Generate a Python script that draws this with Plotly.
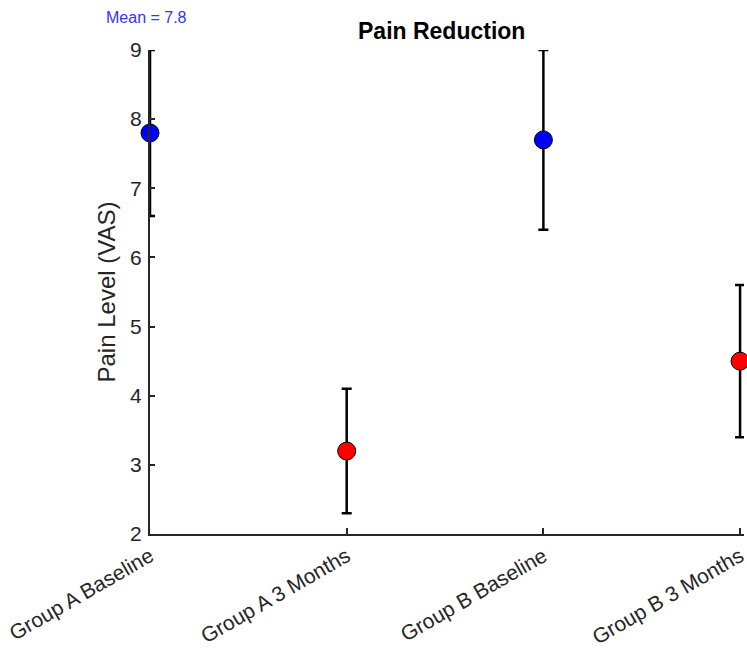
import plotly.graph_objects as go

categories = ["Group A Baseline", "Group A 3 Months", "Group B Baseline", "Group B 3 Months"]
means = [7.8, 3.2, 7.7, 4.5]
errors = [1.2, 0.9, 1.3, 1.1]
colors = ["#0000FF", "#FF0000", "#0000FF", "#FF0000"]
y_ticks = [2, 3, 4, 5, 6, 7, 8, 9]
annotation_text = "Mean = 7.8"

xs = list(range(len(categories)))
axis_col = "#262626"
font_fam = "Liberation Sans, Arial, sans-serif"

# plot area: 597 px wide, 484 px tall
PW, PH = 597, 484

fig = go.Figure()
fig.add_trace(go.Scatter(
    x=xs, y=means, mode="markers",
    marker=dict(size=18, color=colors, line=dict(color="#000000", width=1)),
    error_y=dict(type="data", array=errors, visible=True, color="#000000", thickness=2.5, width=5),
    cliponaxis=False, showlegend=False,
))

fig.add_annotation(x=0, y=1 + (50 - 17) / PH, xref="paper", yref="paper", text=annotation_text,
                   showarrow=False, font=dict(family=font_fam, size=16, color="#3333FF"),
                   xanchor="center", yanchor="middle", xshift=-4)
fig.add_annotation(x=(443 - 150) / PW, y=1 + (50 - 31) / PH, xref="paper", yref="paper",
                   text="<b>Pain Reduction</b>", showarrow=False, xanchor="center", yanchor="middle",
                   font=dict(family=font_fam, size=23, color="#000000"))

fig.update_layout(
    width=747, height=648,
    margin=dict(l=150, r=0, t=50, b=114),
    paper_bgcolor="white", plot_bgcolor="white",
    font=dict(family=font_fam, color=axis_col),
    xaxis=dict(
        range=[0, 3.02], tickvals=xs, ticktext=categories, tickangle=-30,
        showline=True, linecolor=axis_col, linewidth=2, ticks="inside", ticklen=6,
        tickcolor=axis_col, tickwidth=1.5, showgrid=False, zeroline=False,
        tickfont=dict(size=21, color=axis_col), ticklabeloverflow="allow",
    ),
    yaxis=dict(
        range=[2, 9], tickvals=y_ticks, showline=True, linecolor=axis_col, linewidth=2,
        ticks="inside", ticklen=5, tickcolor=axis_col, tickwidth=1.5, showgrid=False, zeroline=False,
        tickfont=dict(size=21, color=axis_col), ticklabelstandoff=2,
        title=dict(text="Pain Level (VAS)", font=dict(size=24, color=axis_col), standoff=8),
    ),
)

fig.write_html(
    "out.html",
    config={"displayModeBar": False},
    post_script="document.body.style.margin='0';document.body.style.overflow='hidden';",
)
